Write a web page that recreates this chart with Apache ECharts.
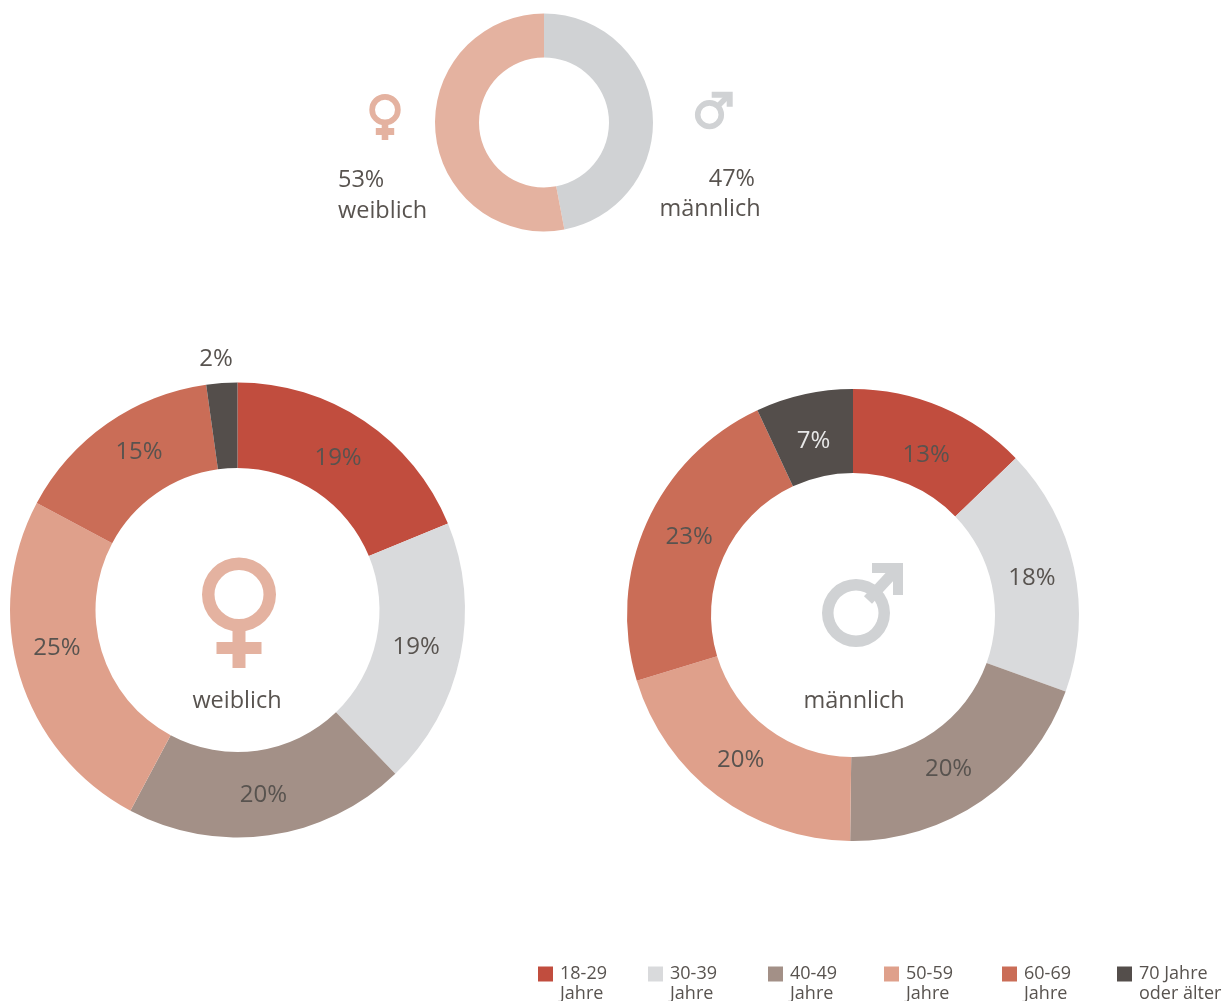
<!DOCTYPE html>
<html>
<head>
<meta charset="utf-8">
<title>Geschlecht und Alter</title>
<script src="https://cdn.jsdelivr.net/npm/echarts@6/dist/echarts.min.js"></script>
<style>
  html, body { margin: 0; padding: 0; background: #fff; }
  #chart { width: 1231px; height: 1001px; }
</style>
</head>
<body>
<div id="chart"></div>
<script>
const genderNames = ['männlich', 'weiblich'];
const genderShares = [47, 53];
const ageGroups = ['18-29\nJahre', '30-39\nJahre', '40-49\nJahre', '50-59\nJahre', '60-69\nJahre', '70 Jahre\noder älter'];
// labels show them rounded
const femaleShares = [18.8, 19, 20, 25, 15, 2.2];
const maleShares = [12.8, 17.7, 19.7, 20.1, 22.75, 6.95];

const ageColors = ['#c14d3e', '#d9dadc', '#a39087', '#dfa08b', '#ca6d57', '#544e4b'];
const genderColors = ['#d0d2d4', '#e4b2a0'];
const textColor = '#58534f';
const fontFamily = '"Open Sans", sans-serif';
const legendLeft = [538, 648, 768, 884, 1002, 1117];

const chart = echarts.init(document.getElementById('chart'), null, { renderer: 'canvas' });

function ageSeries(name, shares, center, outer, inner, itemLabels) {
  return {
    name: name,
    type: 'pie',
    center: center,
    radius: [inner, outer],
    startAngle: 90,
    silent: true,
    avoidLabelOverlap: false,
    labelLine: { show: false },
    label: {
      position: 'inside',
      formatter: (p) => Math.round(p.value) + '%',
      color: textColor,
      fontFamily: fontFamily,
      fontSize: 24
    },
    data: shares.map((v, i) => ({
      name: ageGroups[i],
      value: v,
      itemStyle: { color: ageColors[i] },
      label: itemLabels[i] || {}
    }))
  };
}

function femaleSymbol(x, y, r, ri, stemW, stemEnd, barW, barY, barH) {
  const c = genderColors[1];
  return [
    { type: 'rect', shape: { x: x - stemW / 2, y: y + ri, width: stemW, height: stemEnd - y - ri }, style: { fill: c } },
    { type: 'rect', shape: { x: x - barW / 2, y: barY, width: barW, height: barH }, style: { fill: c } },
    { type: 'ring', shape: { cx: x, cy: y, r: r, r0: ri }, style: { fill: c } }
  ];
}

function maleSymbol(x, y, r, ri, head, shaft) {
  const c = genderColors[0];
  return [
    { type: 'ring', shape: { cx: x, cy: y, r: r, r0: ri }, style: { fill: c } },
    { type: 'polygon', shape: { points: head }, style: { fill: c } },
    { type: 'line', shape: shaft, style: { stroke: c, lineWidth: shaft.w } }
  ];
}

function label(text, x, y, align) {
  return {
    type: 'text',
    x: x,
    y: y,
    style: {
      text: text,
      fill: textColor,
      font: '23.5px ' + fontFamily,
      align: align,
      verticalAlign: 'middle'
    }
  };
}

const option = {
  animation: false,
  backgroundColor: '#fff',
  legend: ageGroups.map((name, i) => ({
    data: [name],
    left: legendLeft[i],
    top: 964,
    padding: 0,
    itemWidth: 15,
    itemHeight: 35,
    itemGap: 0,
    selectedMode: false,
    icon: 'path://M0,0H15V15H0Z M0,35L0,35',
    textStyle: { color: textColor, fontFamily: fontFamily, fontSize: 18, lineHeight: 20, padding: [0, 0, 0, 2] }
  })),
  series: [
    {
      name: 'Geschlecht',
      type: 'pie',
      center: [544, 122.5],
      radius: [65, 109],
      startAngle: 90,
      silent: true,
      label: { show: false },
      labelLine: { show: false },
      data: genderNames.map((n, i) => ({ name: n, value: genderShares[i], itemStyle: { color: genderColors[i] } }))
    },
    ageSeries('weiblich', femaleShares, [237.5, 610], 227.5, 142, {
      0: { offset: [-4, 4] },
      1: { offset: [-5, -1] },
      2: { offset: [0, -1] },
      3: { offset: [-1, -16] },
      4: { offset: [9, -4] },
      5: { position: 'outside', distance: 24, offset: [47, -9] }
    }),
    ageSeries('männlich', maleShares, [853, 615], 226, 142, {
      0: { offset: [0, 12] },
      1: { offset: [-4, 2] },
      2: { offset: [-11, 0] },
      3: { offset: [0, -4] },
      4: { offset: [7, -2] },
      5: { offset: [1, 9], color: '#e8e8e8' }
    })
  ],
  graphic: [
    ...femaleSymbol(385, 109.7, 15.7, 10, 6.6, 140, 18.4, 128, 7),
    ...maleSymbol(709.5, 114.7, 14.6, 9,
      [[711.7, 91.7], [732.7, 91.7], [732.7, 106.7], [726.7, 106.7], [726.7, 97.7], [711.7, 97.7]],
      { x1: 717, y1: 107, x2: 728, y2: 96, w: 5.5 }),
    ...femaleSymbol(239, 594.5, 37, 24.5, 13, 668, 45, 642, 12),
    ...maleSymbol(856, 613, 34, 22.5,
      [[872, 563], [903, 563], [903, 595], [893, 595], [893, 573], [872, 573]],
      { x1: 868, y1: 600, x2: 894, y2: 572, w: 11 }),
    label('53%', 338, 180, 'left'),
    label('weiblich', 338, 211, 'left'),
    label('47%', 755, 179, 'right'),
    label('männlich', 710, 209, 'center'),
    label('weiblich', 237, 701, 'center'),
    label('männlich', 854, 701, 'center')
  ]
};

chart.setOption(option);
</script>
</body>
</html>
